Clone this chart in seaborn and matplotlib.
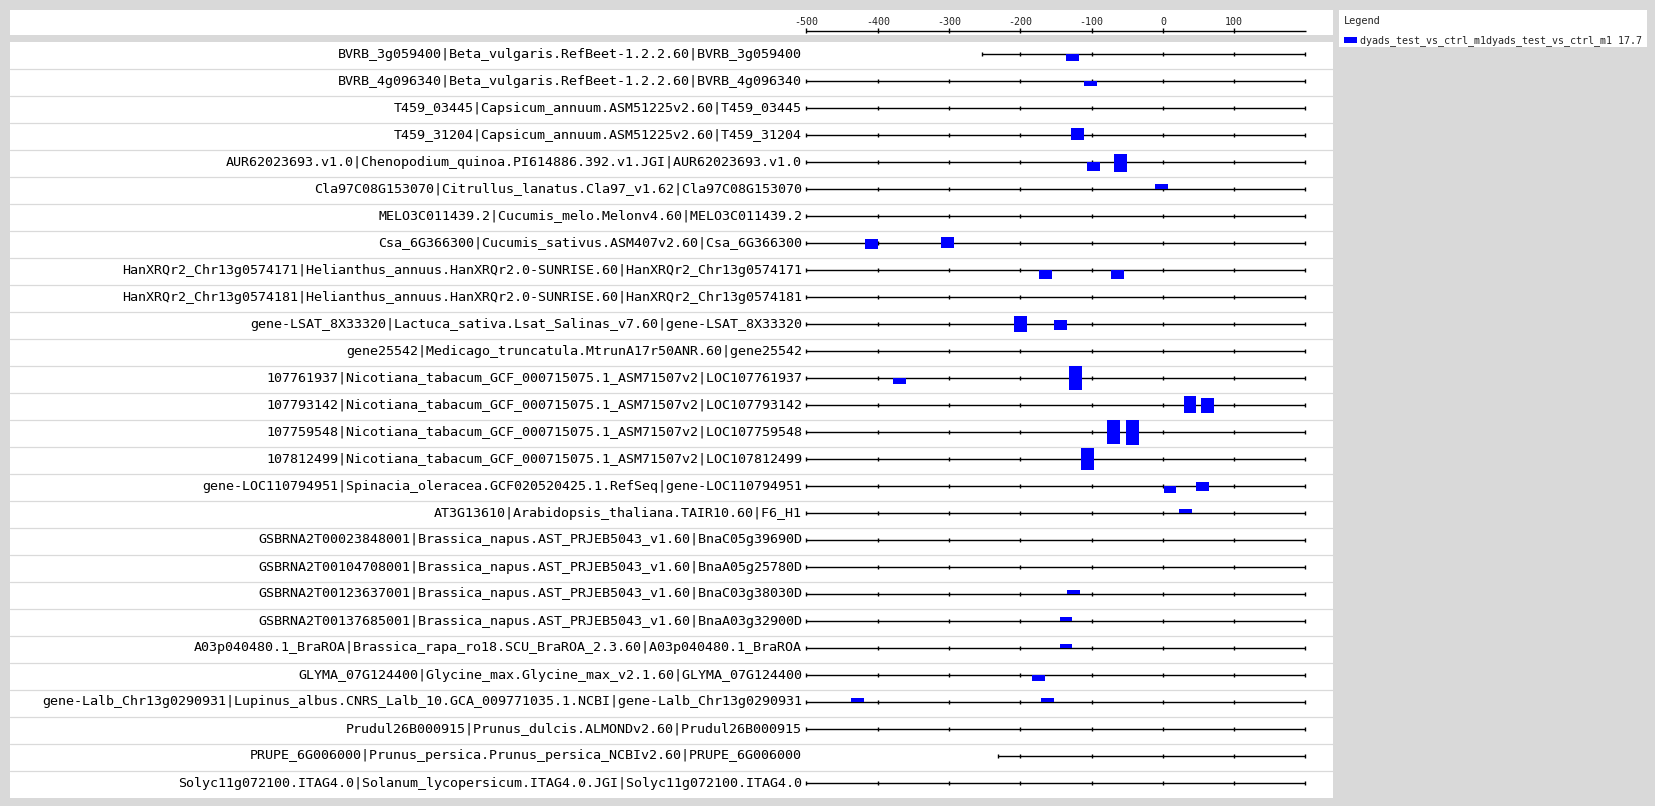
import pandas as pd
import matplotlib.pyplot as plt
import seaborn as sns
from matplotlib.patches import Rectangle

sns.set_theme(style="white")
plt.rcParams['font.family'] = ['DejaVu Sans Mono', 'DejaVu Sans']

# sequence names, one per row
labels = [
    "BVRB_3g059400|Beta_vulgaris.RefBeet-1.2.2.60|BVRB_3g059400",
    "BVRB_4g096340|Beta_vulgaris.RefBeet-1.2.2.60|BVRB_4g096340",
    "T459_03445|Capsicum_annuum.ASM51225v2.60|T459_03445",
    "T459_31204|Capsicum_annuum.ASM51225v2.60|T459_31204",
    "AUR62023693.v1.0|Chenopodium_quinoa.PI614886.392.v1.JGI|AUR62023693.v1.0",
    "Cla97C08G153070|Citrullus_lanatus.Cla97_v1.62|Cla97C08G153070",
    "MELO3C011439.2|Cucumis_melo.Melonv4.60|MELO3C011439.2",
    "Csa_6G366300|Cucumis_sativus.ASM407v2.60|Csa_6G366300",
    "HanXRQr2_Chr13g0574171|Helianthus_annuus.HanXRQr2.0-SUNRISE.60|HanXRQr2_Chr13g0574171",
    "HanXRQr2_Chr13g0574181|Helianthus_annuus.HanXRQr2.0-SUNRISE.60|HanXRQr2_Chr13g0574181",
    "gene-LSAT_8X33320|Lactuca_sativa.Lsat_Salinas_v7.60|gene-LSAT_8X33320",
    "gene25542|Medicago_truncatula.MtrunA17r50ANR.60|gene25542",
    "107761937|Nicotiana_tabacum_GCF_000715075.1_ASM71507v2|LOC107761937",
    "107793142|Nicotiana_tabacum_GCF_000715075.1_ASM71507v2|LOC107793142",
    "107759548|Nicotiana_tabacum_GCF_000715075.1_ASM71507v2|LOC107759548",
    "107812499|Nicotiana_tabacum_GCF_000715075.1_ASM71507v2|LOC107812499",
    "gene-LOC110794951|Spinacia_oleracea.GCF020520425.1.RefSeq|gene-LOC110794951",
    "AT3G13610|Arabidopsis_thaliana.TAIR10.60|F6_H1",
    "GSBRNA2T00023848001|Brassica_napus.AST_PRJEB5043_v1.60|BnaC05g39690D",
    "GSBRNA2T00104708001|Brassica_napus.AST_PRJEB5043_v1.60|BnaA05g25780D",
    "GSBRNA2T00123637001|Brassica_napus.AST_PRJEB5043_v1.60|BnaC03g38030D",
    "GSBRNA2T00137685001|Brassica_napus.AST_PRJEB5043_v1.60|BnaA03g32900D",
    "A03p040480.1_BraROA|Brassica_rapa_ro18.SCU_BraROA_2.3.60|A03p040480.1_BraROA",
    "GLYMA_07G124400|Glycine_max.Glycine_max_v2.1.60|GLYMA_07G124400",
    "gene-Lalb_Chr13g0290931|Lupinus_albus.CNRS_Lalb_10.GCA_009771035.1.NCBI|gene-Lalb_Chr13g0290931",
    "Prudul26B000915|Prunus_dulcis.ALMONDv2.60|Prudul26B000915",
    "PRUPE_6G006000|Prunus_persica.Prunus_persica_NCBIv2.60|PRUPE_6G006000",
    "Solyc11g072100.ITAG4.0|Solanum_lycopersicum.ITAG4.0.JGI|Solyc11g072100.ITAG4.0",
]
# where each sequence starts (all end at 200)
seq_start = [-254, -500, -500, -500, -500, -500, -500, -500, -500, -500,
             -500, -500, -500, -500, -500, -500, -500, -500, -500, -500,
             -500, -500, -500, -500, -500, -500, -232, -500]
seq_end = 200

# motif hits: row, start position, score on upper strand, score on lower strand
hit_row = [0, 1, 3, 4, 4, 5, 7, 7, 8, 8, 10, 10, 12, 12, 13, 13, 14, 14,
           15, 16, 16, 17, 20, 21, 22, 23, 24, 24]
hit_pos = [-136, -111, -129, -106, -69, -11, -418, -311, -174, -73, -209, -153,
           -379, -132, 29, 53, -78, -52, -115, 1, 46, 23, -135, -145, -145,
           -184, -438, -171]
hit_up = [0, 0, 7.3, 0, 8.3, 5.3, 4.3, 6.3, 0, 0, 8.3, 4.3, 0, 12.3, 9.3, 7.3,
          12.3, 12.3, 11.3, 0, 4.3, 4.3, 4.0, 4.3, 4.3, 0, 4.3, 4.3]
hit_down = [7.3, 5.3, 4.7, 8.7, 9.7, 0, 6.3, 4.7, 8.7, 8.7, 7.7, 5.7, 5.7, 11.7,
            7.7, 7.7, 11.7, 12.7, 10.7, 6.7, 4.7, 0, 0, 0, 0, 5.7, 0, 0]
motif_len = 18

axis_ticks = [-500, -400, -300, -200, -100, 0, 100]
legend_label = "dyads_test_vs_ctrl_m1dyads_test_vs_ctrl_m1 17.7"

hits = pd.DataFrame({"row": hit_row, "pos": hit_pos, "up": hit_up, "down": hit_down})

W, H = 1656, 806
bg = "#d9d9d9"
blue = "#0000ff"
fig = plt.figure(figsize=(W / 100, H / 100), dpi=100, facecolor=bg)


def box(x0, y0, x1, y1):
    # pixel box (from top-left) -> figure fraction
    return [x0 / W, 1 - y1 / H, (x1 - x0) / W, (y1 - y0) / H]


def blank(a):
    a.set_facecolor("white")
    a.set_xticks([])
    a.set_yticks([])
    sns.despine(ax=a, left=True, bottom=True)


# map sequence positions so -500 sits at 806.5px and 200 at 1305.5px
px_per_unit = 499 / 700
left_px, right_px = 10, 1333
xmin = -500 - (806.5 - left_px) / px_per_unit
xmax = 200 + (right_px - 1305.5) / px_per_unit

n = len(labels)
row_px = 27.0
line_off = 12.3 / row_px

ax = fig.add_axes(box(left_px, 41.7, right_px, 41.7 + n * row_px))
blank(ax)
ax.set_xlim(xmin, xmax)
ax.set_ylim(n, 0)

for i in range(1, n):
    ax.axhline(i, color="#dadada", lw=0.9, zorder=1)

for i, name in enumerate(labels):
    y = i + line_off
    ax.hlines(y, seq_start[i], seq_end, color="black", lw=1.0, zorder=2)
    tks = [seq_start[i]] + [t for t in range(-500, seq_end + 1, 100) if t > seq_start[i]]
    ax.vlines(tks, y - 2.4 / row_px, y + 2.4 / row_px, color="black", lw=1.0, zorder=2)
    ax.text(-506, y, name, ha="right", va="center", fontsize=9.6, color="black")

up = hits[hits["up"] > 0]
ax.bar(up["pos"], -up["up"] / row_px, bottom=up["row"] + line_off, width=motif_len,
       align="edge", color=blue, lw=0, zorder=3)
down = hits[hits["down"] > 0]
ax.bar(down["pos"], down["down"] / row_px, bottom=down["row"] + line_off, width=motif_len,
       align="edge", color=blue, lw=0, zorder=3)

# top scale
top = fig.add_axes(box(left_px, 10, right_px, 34.7))
blank(top)
top.set_xlim(xmin, xmax)
top.set_ylim(24.7, 0)
top.hlines(20.7, -500, 201, color="black", lw=1.0)
top.vlines(axis_ticks, 18.3, 22.7, color="black", lw=1.0)
for t in axis_ticks:
    top.text(t, 11.7, f"{t}", ha="center", va="center", fontsize=7.2)

# legend panel, drawn in its own pixel space
lg = fig.add_axes(box(1339.5, 10, 1647, 46.7))
blank(lg)
lg.set_xlim(0, 307.5)
lg.set_ylim(36.7, 0)
lg.text(4, 11.5, "Legend", ha="left", va="center", fontsize=7.4)
lg.add_patch(Rectangle((4.5, 27.3), 13, 6, color=blue, lw=0))
lg.text(20.5, 30.7, legend_label, ha="left", va="center", fontsize=7.2)

fig.savefig("out.png", dpi=100, facecolor=bg)
